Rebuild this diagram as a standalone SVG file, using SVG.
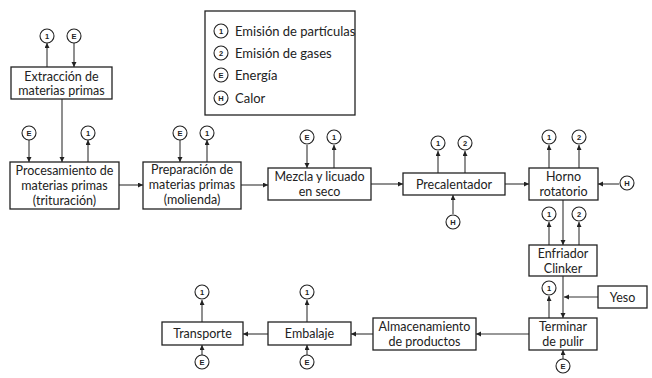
<svg xmlns="http://www.w3.org/2000/svg" width="652" height="378" viewBox="0 0 652 378">
<style>
  .box{fill:#fff;stroke:#222;stroke-width:1.3}
  .t{font-family:Lato,"Liberation Sans",sans-serif;font-size:12.5px;fill:#222;text-anchor:middle}
  .lt{font-family:Lato,"Liberation Sans",sans-serif;font-size:13px;fill:#222}
  .c{fill:#fff;stroke:#222;stroke-width:1.1}
  .ct{font-family:"Liberation Sans",Arial,sans-serif;font-size:7.5px;font-weight:bold;fill:#222;text-anchor:middle}
  .ln{fill:none;stroke:#333;stroke-width:1.1;marker-end:url(#ah)}
</style>
<defs>
  <marker id="ah" markerUnits="userSpaceOnUse" markerWidth="6" markerHeight="6" refX="5" refY="2.5" orient="auto">
    <path d="M0,0 L5,2.5 L0,5 z" fill="#222"/>
  </marker>
  <g id="c1"><circle class="c" r="7"/><text class="ct" y="2.7">1</text></g>
  <g id="c2"><circle class="c" r="7"/><text class="ct" y="2.7">2</text></g>
  <g id="cE"><circle class="c" r="7"/><text class="ct" y="2.7">E</text></g>
  <g id="cH"><circle class="c" r="7"/><text class="ct" y="2.7">H</text></g>
</defs>

<g id="legend">
  <rect class="box" x="205" y="11" width="150" height="104"/>
  <use href="#c1" x="221" y="31"/><text class="lt" x="235" y="35.5">Emisión de partículas</text>
  <use href="#c2" x="221" y="53"/><text class="lt" x="235" y="57.5">Emisión de gases</text>
  <use href="#cE" x="221" y="75"/><text class="lt" x="235" y="79.5">Energía</text>
  <use href="#cH" x="221" y="98"/><text class="lt" x="235" y="102.5">Calor</text>
</g>

<g id="connectors">
  <line class="ln" x1="47" y1="67" x2="47" y2="43"/>
  <line class="ln" x1="74" y1="43" x2="74" y2="67"/>
  <line class="ln" x1="62" y1="99" x2="62" y2="162"/>
  <line class="ln" x1="29" y1="140" x2="29" y2="162"/>
  <line class="ln" x1="88" y1="162" x2="88" y2="140"/>
  <line class="ln" x1="119" y1="185" x2="143" y2="185"/>
  <line class="ln" x1="180" y1="140" x2="180" y2="162"/>
  <line class="ln" x1="207" y1="162" x2="207" y2="140"/>
  <line class="ln" x1="241" y1="185" x2="268" y2="185"/>
  <line class="ln" x1="307" y1="145" x2="307" y2="168"/>
  <line class="ln" x1="334" y1="168" x2="334" y2="145"/>
  <line class="ln" x1="371" y1="184" x2="403" y2="184"/>
  <line class="ln" x1="438" y1="173" x2="438" y2="151"/>
  <line class="ln" x1="465" y1="173" x2="465" y2="151"/>
  <line class="ln" x1="453" y1="214" x2="453" y2="195"/>
  <line class="ln" x1="505" y1="184" x2="529" y2="184"/>
  <line class="ln" x1="549" y1="168" x2="549" y2="145"/>
  <line class="ln" x1="579" y1="168" x2="579" y2="145"/>
  <line class="ln" x1="619" y1="184" x2="598" y2="184"/>
  <line class="ln" x1="563" y1="200" x2="563" y2="245"/>
  <line class="ln" x1="549" y1="245" x2="549" y2="222"/>
  <line class="ln" x1="579" y1="245" x2="579" y2="222"/>
  <line class="ln" x1="563" y1="276" x2="563" y2="318"/>
  <line class="ln" x1="598" y1="297" x2="564" y2="297"/>
  <line class="ln" x1="549" y1="318" x2="549" y2="296"/>
  <line class="ln" x1="563" y1="359" x2="563" y2="350"/>
  <line class="ln" x1="529" y1="334" x2="476" y2="334"/>
  <line class="ln" x1="373" y1="334" x2="351" y2="334"/>
  <line class="ln" x1="307" y1="322" x2="307" y2="300"/>
  <line class="ln" x1="307" y1="355" x2="307" y2="345"/>
  <line class="ln" x1="268" y1="334" x2="243" y2="334"/>
  <line class="ln" x1="202" y1="322" x2="202" y2="300"/>
  <line class="ln" x1="202" y1="355" x2="202" y2="345"/>
</g>

<g id="extraccion">
  <rect class="box" x="11" y="67" width="101" height="32"/>
  <text class="t" x="61.5" y="80.5">Extracción de</text>
  <text class="t" x="61.5" y="95">materias primas</text>
  <use href="#c1" x="47" y="36"/><use href="#cE" x="74" y="36"/>
</g>

<g id="procesamiento">
  <rect class="box" x="10" y="162" width="109" height="47"/>
  <text class="t" x="64.5" y="175">Procesamiento de</text>
  <text class="t" x="64.5" y="190">materias primas</text>
  <text class="t" x="64.5" y="205">(trituración)</text>
  <use href="#cE" x="29" y="133"/><use href="#c1" x="88" y="133"/>
</g>

<g id="preparacion">
  <rect class="box" x="143" y="162" width="98" height="47"/>
  <text class="t" x="192" y="174">Preparación de</text>
  <text class="t" x="192" y="189">materias primas</text>
  <text class="t" x="192" y="204">(molienda)</text>
  <use href="#cE" x="180" y="133"/><use href="#c1" x="207" y="133"/>
</g>

<g id="mezcla">
  <rect class="box" x="268" y="168" width="103" height="32"/>
  <text class="t" x="319.5" y="181">Mezcla y licuado</text>
  <text class="t" x="319.5" y="196">en seco</text>
  <use href="#cE" x="307" y="137"/><use href="#c1" x="334" y="137"/>
</g>

<g id="precalentador">
  <rect class="box" x="403" y="173" width="102" height="22"/>
  <text class="t" x="454" y="188.5">Precalentador</text>
  <use href="#c1" x="438" y="143"/><use href="#c2" x="465" y="143"/>
  <use href="#cH" x="453" y="222"/>
</g>

<g id="horno">
  <rect class="box" x="529" y="168" width="69" height="32"/>
  <text class="t" x="563.5" y="180.5">Horno</text>
  <text class="t" x="563.5" y="195.5">rotatorio</text>
  <use href="#c1" x="549" y="137"/><use href="#c2" x="579" y="137"/>
  <use href="#cH" x="627" y="183"/>
</g>

<g id="enfriador">
  <rect class="box" x="529" y="245" width="68" height="31"/>
  <text class="t" x="563" y="258">Enfriador</text>
  <text class="t" x="563" y="273">Clinker</text>
  <use href="#c1" x="549" y="214"/><use href="#c2" x="579" y="214"/>
</g>

<g id="yeso">
  <rect class="box" x="598" y="286" width="49" height="22"/>
  <text class="t" x="622.5" y="301.5">Yeso</text>
</g>

<g id="terminar">
  <rect class="box" x="529" y="318" width="68" height="32"/>
  <text class="t" x="563" y="331">Terminar</text>
  <text class="t" x="563" y="346">de pulir</text>
  <use href="#c1" x="549" y="288"/><use href="#cE" x="563" y="366"/>
</g>

<g id="almacenamiento">
  <rect class="box" x="373" y="318" width="103" height="32"/>
  <text class="t" x="424.5" y="330.5">Almacenamiento</text>
  <text class="t" x="424.5" y="345.5">de productos</text>
</g>

<g id="embalaje">
  <rect class="box" x="268" y="322" width="83" height="23"/>
  <text class="t" x="309.5" y="338">Embalaje</text>
  <use href="#c1" x="307" y="292"/><use href="#cE" x="307" y="362"/>
</g>

<g id="transporte">
  <rect class="box" x="162" y="322" width="81" height="23"/>
  <text class="t" x="202.5" y="338">Transporte</text>
  <use href="#c1" x="202" y="292"/><use href="#cE" x="202" y="362"/>
</g>
</svg>
